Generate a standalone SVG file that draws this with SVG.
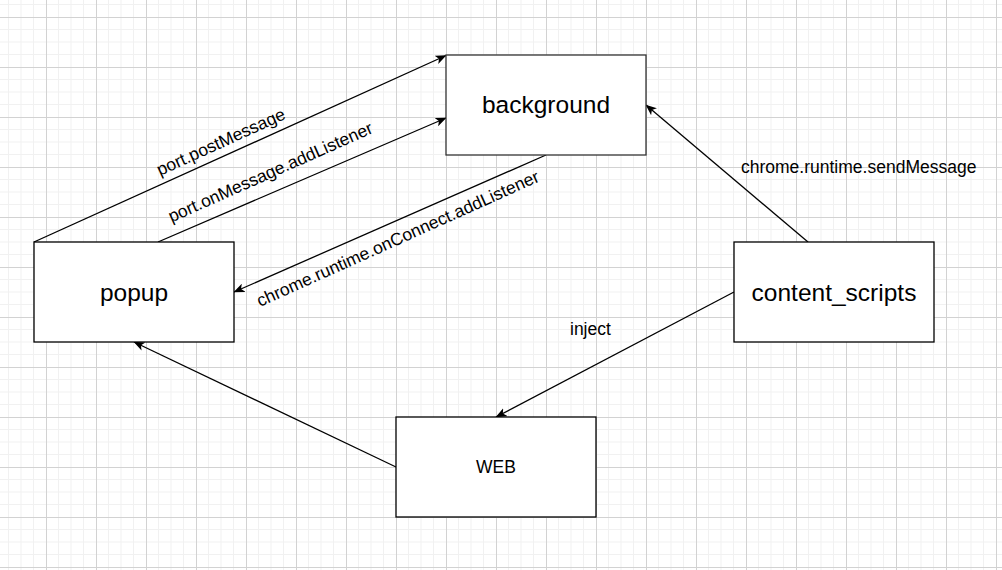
<svg xmlns="http://www.w3.org/2000/svg" width="1002" height="570" viewBox="0 0 1002 570">
  <style>
    .box { fill: #ffffff; stroke: #000000; stroke-width: 1.3; }
    .box.bg { stroke: #333333; }
    .ntext { font-family: "Liberation Sans", Arial, sans-serif; font-size: 24.5px; fill: #000000; text-anchor: middle; }
    .stext { font-family: "Liberation Sans", Arial, sans-serif; font-size: 17.5px; fill: #000000; }
    .edge { fill: none; stroke: #000000; stroke-width: 1.3; marker-end: url(#arrow); }
  </style>
  <defs>
    <pattern id="grid" patternUnits="userSpaceOnUse" x="46" y="17" width="50" height="50">
      <path d="M12.5,0 V50 M25,0 V50 M37.5,0 V50 M0,12.5 H50 M0,25 H50 M0,37.5 H50" stroke="#f1f1f1" stroke-width="1" fill="none"/>
      <path d="M0.5,0 V50 M0,0.5 H50" stroke="#d2d2d2" stroke-width="1" fill="none"/>
    </pattern>
    <marker id="arrow" markerUnits="userSpaceOnUse" viewBox="0 0 11 9" refX="10.5" refY="4.5" markerWidth="11" markerHeight="9" orient="auto">
      <path d="M0,0 L11,4.5 L0,9 L2.8,4.5 Z" fill="#000000"/>
    </marker>
  </defs>

  <rect x="0" y="0" width="1002" height="570" fill="#ffffff"/>
  <rect x="0" y="0" width="1002" height="570" fill="url(#grid)"/>

  <g id="connectors">
    <line class="edge" x1="34" y1="242" x2="446" y2="55.5"/>
    <line class="edge" x1="158" y1="242" x2="446" y2="118"/>
    <line class="edge" x1="546" y1="155" x2="234" y2="292"/>
    <line class="edge" x1="808" y1="242" x2="646" y2="105"/>
    <line class="edge" x1="734" y1="292" x2="496" y2="417"/>
    <line class="edge" x1="396" y1="467" x2="134" y2="342"/>
    <text class="stext" text-anchor="middle" x="221.5" y="143.3" dy="0.25em" transform="rotate(-24.4 221.5 143.3)">port.postMessage</text>
    <text class="stext" text-anchor="middle" x="271" y="173.5" dy="0.25em" transform="rotate(-24 271 173.5)">port.onMessage.addListener</text>
    <text class="stext" text-anchor="middle" x="398.5" y="240" dy="0.25em" transform="rotate(-24.2 398.5 240)">chrome.runtime.onConnect.addListener</text>
    <text class="stext" x="741" y="172.5">chrome.runtime.sendMessage</text>
    <text class="stext" x="570" y="335">inject</text>
  </g>

  <g id="background">
    <rect class="box bg" x="446" y="55" width="200" height="100"/>
    <text class="ntext" x="546" y="113">background</text>
  </g>
  <g id="popup">
    <rect class="box" x="34" y="242" width="200" height="100"/>
    <text class="ntext" x="134" y="301">popup</text>
  </g>
  <g id="content_scripts">
    <rect class="box" x="734" y="242" width="200" height="100"/>
    <text class="ntext" x="834" y="301">content_scripts</text>
  </g>
  <g id="web">
    <rect class="box" x="396" y="417" width="200" height="100"/>
    <text class="stext" text-anchor="middle" x="496" y="473.3">WEB</text>
  </g>
</svg>
